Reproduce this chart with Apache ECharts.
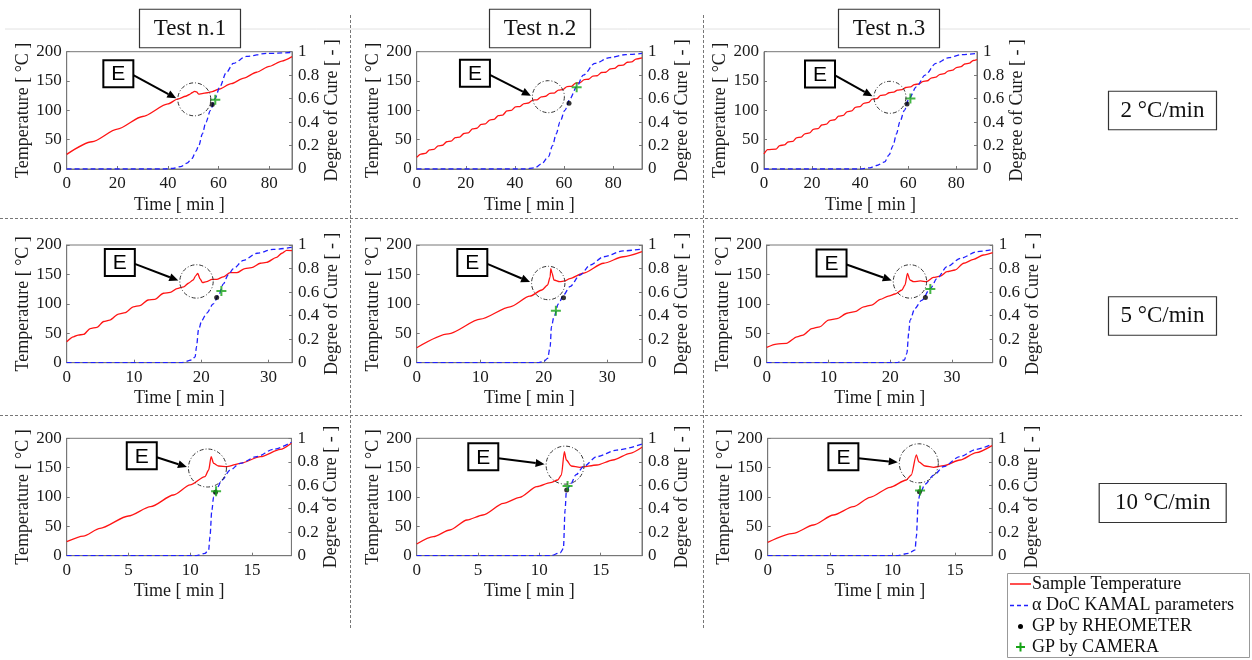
<!DOCTYPE html>
<html><head><meta charset="utf-8">
<script src="https://cdn.jsdelivr.net/npm/echarts@6/dist/echarts.min.js"></script>
<style>html,body{margin:0;padding:0;background:#fff}#c{width:1252px;height:660px}</style>
</head><body><div id="c"></div>
<script>
// ---------- data ----------
const testTitles = ['Test n.1', 'Test n.2', 'Test n.3'];
const rateLabels = ['2 °C/min', '5 °C/min', '10 °C/min'];
const legendNames = ['Sample Temperature', 'α DoC KAMAL parameters', 'GP by RHEOMETER', 'GP by CAMERA'];
const tempTicks = [0, 50, 100, 150, 200];
const docTicks = [0, 0.2, 0.4, 0.6, 0.8, 1];
const timeTicksByRow = [[0, 20, 40, 60, 80], [0, 10, 20, 30], [0, 5, 10, 15]];
const timeMax = [89, 91.7, 88.6, 33.5, 35.45, 36.6, 18.2, 18.37, 17.96];

const temp1 = [[0,25],[10,46.5],[20,68],[30,89.5],[40,111],[44,119.5],[47,124],[48.5,127],[49.5,130],[50.5,132.5],[51.3,131.5],[52.2,127.5],[53.5,128.5],[55.5,130],[57.5,132],[60,136],[65,145.5],[70,155],[75,165],[80,175],[85,184],[89,191.5]];
const temp2 = [[0,20],[1.7,25.5],[3.5,26.5],[5.2,32.5],[7,33.5],[8.7,39.5],[10.5,40.5],[12.2,46.5],[14,47.5],[15.7,53.5],[17.5,54.5],[19.2,60.5],[21,61.5],[22.7,68.5],[24.5,69.5],[26.2,76],[28,77],[29.7,83.5],[31.5,84.5],[33.2,91],[35,92],[36.7,99],[38.5,100],[40.2,106],[42,106.5],[43.7,111.5],[45.5,112.5],[47.2,117.5],[49,118],[50.7,123],[52.5,124],[54.2,129],[56,129.5],[57.7,134.5],[59.5,135.5],[61.2,140.5],[63,141],[64.7,146.5],[66.5,147],[68.2,152.5],[70,153],[71.7,158.5],[73.5,159],[75.2,164.5],[77,165],[78.7,170.5],[80.5,171.5],[82.2,176.5],[84,177],[85.7,182],[87.5,182.5],[89.2,187.5],[91.7,189.5]];
const temp3 = [[0,25.6],[1.5,33],[5,34],[6.5,40],[8.5,41],[10,46],[12,47],[13.5,53],[15.5,54.5],[17,60],[19,61.5],[20.5,67.5],[22.5,69],[24,75],[26,76.5],[27.5,82.5],[29.5,84],[31,90],[33,91.5],[34.5,97.5],[36.5,99],[38,105],[40,106.5],[41.5,112],[43.5,113.5],[45,119],[47,120],[48.5,125.5],[50.5,126.5],[52,130],[54,131],[55.5,134.5],[57.5,135.5],[59,139],[61,140],[62.5,144],[64.5,145],[66,149],[68,150.5],[69.5,155],[71.5,156.5],[73,161],[75,162.5],[76.5,167],[78.5,168.5],[80,173],[82,174.5],[83.5,179],[85.5,180.5],[87,185],[88.6,186.5]];
const temp4 = [[0,35.7],[1,44],[1.7,47],[2.5,48],[3.5,58],[4.5,60],[5.5,70],[6.4,72.5],[7.7,82.7],[8.7,85],[9.9,95],[10.9,97],[12.1,106.5],[13.1,107.6],[14.4,118],[15.4,119.5],[16.4,126],[17.4,129],[18.1,135],[18.8,140.5],[19.2,148],[19.5,151.8],[19.8,143],[20.2,136],[20.8,137.7],[21.6,141.6],[22.3,141.6],[23.3,146],[24.3,153],[25.3,153],[26.5,160],[27.5,161.5],[28.8,169],[29.7,170.5],[31.2,179],[32,186],[32.7,191],[33.5,190.5]];
const temp5 = [[0,25.5],[5,49],[10,74],[14.7,95],[17.8,113],[19.7,123.5],[20.6,132],[21,146],[21.1,160],[21.3,152],[21.6,140.5],[22.5,137.7],[23.3,139],[24.1,143],[26.2,152],[29.4,169],[32.5,180],[35.45,188.7]];
const temp6 = [[0,26],[1.6,31.7],[3.2,33],[4.9,44],[5.9,47],[7.3,58],[8.6,61],[10,72.5],[11.4,75],[13,84],[14.3,86.7],[15.7,95],[17,98],[18.4,107.6],[19.7,113],[20.8,116.7],[21.9,123.5],[22.4,132],[22.8,151.8],[23.2,140.5],[23.8,137.7],[24.9,139],[25.9,137.7],[27,145],[28.1,147],[29.2,154.7],[30.5,157.5],[31.9,169],[33.5,175.6],[35.1,183],[36.6,187]];
const temp7 = [[0,23.9],[1.35,33.5],[2.7,46.6],[5,67.6],[6.8,83.5],[8.65,103.4],[10,120.5],[11.2,134.7],[11.5,146],[11.7,168.75],[11.9,157.4],[12.3,152.8],[13,151.7],[14.05,157.4],[15.7,168.75],[17.3,181],[18.2,191.5]];
const temp8 = [[0,19.9],[1.36,32.4],[2.7,43.75],[4.1,60.8],[5.4,69.3],[7.07,89.2],[8.4,99.4],[9.8,117.6],[10.9,124.4],[11.5,129],[11.8,137.5],[12.04,177.3],[12.2,163],[12.6,152.8],[13.3,150.6],[14.7,154.5],[16,163],[17.4,174.4],[18.37,184.7]];
const temp9 = [[0,22.7],[2.05,38],[3.66,52.3],[5.26,69.3],[6.86,83.5],[8.2,99.4],[9.8,116.5],[11.1,129],[11.5,137.5],[11.9,171.6],[12.1,160],[12.6,152.8],[13.3,150.6],[14.1,153.4],[15.4,163],[16.7,175.6],[17.96,187.5]];

const doc1 = [[0,0],[38,0],[42,0.005],[45,0.02],[47.5,0.05],[49.5,0.09],[51,0.15],[52.2,0.2],[53.6,0.3],[55,0.4],[56.8,0.5],[58.6,0.6],[60.5,0.7],[63,0.82],[65.8,0.9],[71,0.96],[79,0.985],[89,0.994]];
const doc2 = [[0,0],[44,0],[48,0.01],[50.8,0.043],[53.6,0.105],[55.3,0.2],[56.8,0.3],[58.3,0.4],[60.3,0.5],[62.4,0.6],[65.1,0.7],[67.8,0.8],[72.5,0.9],[78.6,0.95],[85,0.975],[91.7,0.985]];
const doc3 = [[0,0],[40,0],[44,0.01],[46.8,0.03],[50.2,0.06],[52,0.12],[53.7,0.2],[55.1,0.3],[56.5,0.4],[58.4,0.5],[60.3,0.6],[63.4,0.7],[67,0.8],[71.5,0.9],[77,0.95],[82,0.975],[88.6,0.985]];
const doc4 = [[0,0],[17,0],[18.6,0.023],[19.1,0.05],[19.3,0.136],[19.6,0.28],[20.1,0.36],[20.8,0.42],[21.8,0.5],[22.6,0.575],[23.3,0.67],[24,0.745],[24.8,0.8],[26.3,0.87],[28.3,0.93],[30.7,0.963],[33.5,0.98]];
const doc5 = [[0,0],[19,0],[20,0.01],[20.6,0.037],[21,0.136],[21.2,0.306],[21.6,0.39],[22.3,0.5],[23.1,0.575],[24.1,0.646],[25.7,0.745],[27.3,0.83],[29.4,0.9],[32.5,0.95],[35.45,0.966]];
const doc6 = [[0,0],[21,0],[22.3,0.023],[22.7,0.08],[23,0.25],[23.2,0.36],[24,0.46],[25.1,0.53],[26.5,0.63],[27.6,0.717],[29.2,0.816],[31.4,0.887],[34.1,0.943],[36.6,0.963]];
const doc7 = [[0,0],[10.5,0],[11.2,0.02],[11.5,0.05],[11.6,0.16],[11.76,0.39],[11.9,0.5],[12.16,0.574],[12.57,0.645],[13.24,0.73],[14.05,0.787],[15.4,0.844],[16.75,0.906],[18.2,0.966]];
const doc8 = [[0,0],[10.9,0],[11.7,0.025],[11.96,0.06],[12.1,0.39],[12.2,0.545],[12.5,0.6],[13,0.69],[13.6,0.76],[14.7,0.844],[16.3,0.9],[18.37,0.95]];
const doc9 = [[0,0],[10.3,0],[11.3,0.02],[11.8,0.05],[11.9,0.16],[12.06,0.47],[12.2,0.53],[12.6,0.61],[13.3,0.687],[14.1,0.76],[15.4,0.844],[16.7,0.906],[17.96,0.95]];

const gpRheometer = [[57.5,0.55],[62,0.56],[59.5,0.554],[22.3,0.555],[23.1,0.552],[25.7,0.555],[12.05,0.54],[12.23,0.56],[12.15,0.545]];
const gpCamera = [[58.7,0.59],[65.1,0.696],[60.9,0.6],[23,0.61],[21.9,0.442],[26.5,0.626],[12.1,0.55],[12.3,0.594],[12.2,0.555]];

// "E" exotherm annotations (time, temperature) of circle centre and label
const eCircleAt = [[50.4,118.8],[53.6,123.3],[52.4,122.2],[19.3,138.1],[20.7,135.4],[23.2,138.1],[11.4,149.4],[12.1,154.3],[12.1,157.4]];
const eLabelAt = [[20.4,162.5],[23.7,163.2],[23.3,162],[7.9,170.4],[8.75,170.4],[10.5,169.3],[6.08,170.3],[5.43,168.6],[6.06,168.6]];

const temps = [temp1,temp2,temp3,temp4,temp5,temp6,temp7,temp8,temp9];
const docs = [doc1,doc2,doc3,doc4,doc5,doc6,doc7,doc8,doc9];

// ---------- layout ----------
const gridBoxes = [
  [66.7,51.7,225.3,117.3],[416.7,51.7,225.3,117.3],[764,51.7,213,117.3],
  [66.7,245,225.3,117.7],[416.7,245,225.3,117.7],[766.7,245,226,117.7],
  [66.7,438.3,224.7,117.4],[416.7,438.3,225.3,117.4],[767.7,438.3,224.3,117.4]
];
const circleR = [16.5,16,16,16.7,16.7,16.7,19,19,19.5];
const SERIF = "'Liberation Serif','Times New Roman',serif";
const AX = '#777', TXT = '#1a1a1a';

const chart = echarts.init(document.getElementById('c'), null, {renderer:'canvas'});
const grids = [], xAxes = [], yAxes = [], series = [];
for (let i = 0; i < 9; i++) {
  const b = gridBoxes[i];
  const tt = timeTicksByRow[Math.floor(i/3)];
  const step = tt[1] - tt[0];
  grids.push({left:b[0], top:b[1], width:b[2], height:b[3], show:true, borderColor:AX, borderWidth:1, backgroundColor:'transparent'});
  xAxes.push({gridIndex:i, type:'value', min:tt[0], max:timeMax[i], interval:step,
    name:'Time [ min ]', nameLocation:'middle', nameGap:27,
    nameTextStyle:{fontFamily:SERIF, fontSize:18, color:TXT},
    axisLine:{show:true, onZero:false, lineStyle:{color:AX}},
    axisTick:{show:true, inside:true, length:3, lineStyle:{color:AX}},
    axisLabel:{fontFamily:SERIF, fontSize:17, color:TXT, margin:6,
      formatter: v => { const k = (v - tt[0]) / step; return Math.abs(k - Math.round(k)) < 1e-6 ? String(v) : ''; }},
    splitLine:{show:false}});
  yAxes.push({gridIndex:i, type:'value', position:'left', min:tempTicks[0], max:tempTicks[tempTicks.length-1], interval:tempTicks[1]-tempTicks[0],
    name:'Temperature [ °C ]', nameLocation:'middle', nameGap:34, nameRotate:90,
    nameTextStyle:{fontFamily:SERIF, fontSize:18, color:TXT},
    axisLine:{show:true, lineStyle:{color:AX}},
    axisTick:{show:true, inside:true, length:3, lineStyle:{color:AX}},
    axisLabel:{fontFamily:SERIF, fontSize:17, color:TXT, margin:5},
    splitLine:{show:false}});
  yAxes.push({gridIndex:i, type:'value', position:'right', min:docTicks[0], max:docTicks[docTicks.length-1], interval:docTicks[1]-docTicks[0],
    name:'Degree of Cure [ - ]', nameLocation:'middle', nameGap:29, nameRotate:90,
    nameTextStyle:{fontFamily:SERIF, fontSize:18, color:TXT},
    axisLine:{show:true, lineStyle:{color:AX}},
    axisTick:{show:true, inside:true, length:3, lineStyle:{color:AX}},
    axisLabel:{fontFamily:SERIF, fontSize:17, color:TXT, margin:6, formatter: v => String(Math.round(v*10)/10)},
    splitLine:{show:false}});
  series.push({name:legendNames[0], type:'line', xAxisIndex:i, yAxisIndex:2*i, data:temps[i], symbol:'none', smooth:0.25, smoothMonotone:'x',
    lineStyle:{color:'#ff1414', width:1.3}, z:2});
  series.push({name:legendNames[1], type:'line', xAxisIndex:i, yAxisIndex:2*i+1, data:docs[i], symbol:'none', smooth:0.3, smoothMonotone:'x',
    lineStyle:{color:'#2020ff', width:1.3, type:[5,3]}, z:3});
  series.push({name:legendNames[2], type:'scatter', xAxisIndex:i, yAxisIndex:2*i+1, data:[gpRheometer[i]], symbol:'circle', symbolSize:5,
    itemStyle:{color:'#000'}, z:4});
  series.push({name:legendNames[3], type:'scatter', xAxisIndex:i, yAxisIndex:2*i+1, data:[gpCamera[i]],
    symbol:'path://M4,0H6V4H10V6H6V10H4V6H0V4H4Z', symbolSize:10, itemStyle:{color:'#17a317'}, z:5});
}
chart.setOption({animation:false, backgroundColor:'#fff', grid:grids, xAxis:xAxes, yAxis:yAxes, series:series});

// ---------- decorations ----------
const G = [];
const dashed = {stroke:'#777', lineWidth:1, lineDash:[3,2]};
G.push({type:'line', shape:{x1:5,y1:29,x2:1250,y2:29}, style:{stroke:'#e2e2e2', lineWidth:1}, z:0});
G.push({type:'line', shape:{x1:0,y1:218.5,x2:1240,y2:218.5}, style:dashed});
G.push({type:'line', shape:{x1:0,y1:415.5,x2:1242,y2:415.5}, style:dashed});
G.push({type:'line', shape:{x1:350.5,y1:15,x2:350.5,y2:628}, style:dashed});
G.push({type:'line', shape:{x1:703.5,y1:15,x2:703.5,y2:628}, style:dashed});

function boxedText(txt, cx, cy, w, h, font, sw) {
  G.push({type:'rect', shape:{x:cx-w/2, y:cy-h/2, width:w, height:h}, style:{fill:'#fff', stroke:'#333', lineWidth:sw}, z:10});
  G.push({type:'text', x:cx, y:cy, style:{text:txt, font:font, fill:'#111', textAlign:'center', textVerticalAlign:'middle'}, z:11});
}
const titleX = [190, 540, 889];
testTitles.forEach((t, k) => boxedText(t, titleX[k], 28.5, 101, 38.5, "23px 'Liberation Serif', serif", 1.2));
const rateBox = [[1162.5,110.5,108,38.5],[1162.5,316,108,38.5],[1162.7,503,127,39]];
rateLabels.forEach((t, k) => boxedText(t, rateBox[k][0], rateBox[k][1], rateBox[k][2], rateBox[k][3], "23px 'Liberation Serif', serif", 1.2));

for (let i = 0; i < 9; i++) {
  const ref = {xAxisIndex:i, yAxisIndex:2*i};
  const c = chart.convertToPixel(ref, eCircleAt[i]);
  const b = chart.convertToPixel(ref, eLabelAt[i]);
  const r = circleR[i];
  G.push({type:'circle', shape:{cx:c[0], cy:c[1], r:r}, style:{fill:'none', stroke:'#333', lineWidth:1, lineDash:[4,2,1,2]}, z:8});
  G.push({type:'rect', shape:{x:b[0]-15, y:b[1]-13.5, width:30, height:27}, style:{fill:'#fff', stroke:'#000', lineWidth:2}, z:10});
  G.push({type:'text', x:b[0], y:b[1]+1, style:{text:'E', font:"21px 'Liberation Sans', Arial, sans-serif", fill:'#000', textAlign:'center', textVerticalAlign:'middle'}, z:11});
  const sx = b[0]+15, sy = b[1]+1.5, ex = c[0]-r-1.5, ey = c[1]-1;
  const dx = ex-sx, dy = ey-sy, L = Math.hypot(dx, dy), ux = dx/L, uy = dy/L;
  const hl = 9, hw = 4;
  const bx = ex-ux*hl, by = ey-uy*hl;
  G.push({type:'line', shape:{x1:sx, y1:sy, x2:bx, y2:by}, style:{stroke:'#000', lineWidth:2}, z:9});
  G.push({type:'polygon', shape:{points:[[ex,ey],[bx-uy*hw, by+ux*hw],[bx+uy*hw, by-ux*hw]]}, style:{fill:'#000'}, z:9});
}

// legend box
G.push({type:'rect', shape:{x:1007.5, y:573.5, width:242, height:84}, style:{fill:'#fff', stroke:'#999', lineWidth:1}, z:10});
const legY = [584, 605.5, 626.5, 647];
const LF = "18px 'Liberation Serif', serif";
G.push({type:'line', shape:{x1:1010, y1:legY[0], x2:1031, y2:legY[0]}, style:{stroke:'#ff1414', lineWidth:1.5}, z:11});
G.push({type:'line', shape:{x1:1010, y1:legY[1], x2:1031, y2:legY[1]}, style:{stroke:'#2020ff', lineWidth:1.5, lineDash:[4,3]}, z:11});
G.push({type:'circle', shape:{cx:1020.5, cy:legY[2], r:2.5}, style:{fill:'#000'}, z:11});
G.push({type:'rect', shape:{x:1016, y:legY[3]-1, width:9, height:2}, style:{fill:'#17a317'}, z:11});
G.push({type:'rect', shape:{x:1019.5, y:legY[3]-4.5, width:2, height:9}, style:{fill:'#17a317'}, z:11});
legendNames.forEach((n, k) => G.push({type:'text', x:1032, y:legY[k], style:{text:n, font:LF, fill:'#111', textAlign:'left', textVerticalAlign:'middle'}, z:11}));

chart.setOption({graphic:G});
</script></body></html>
